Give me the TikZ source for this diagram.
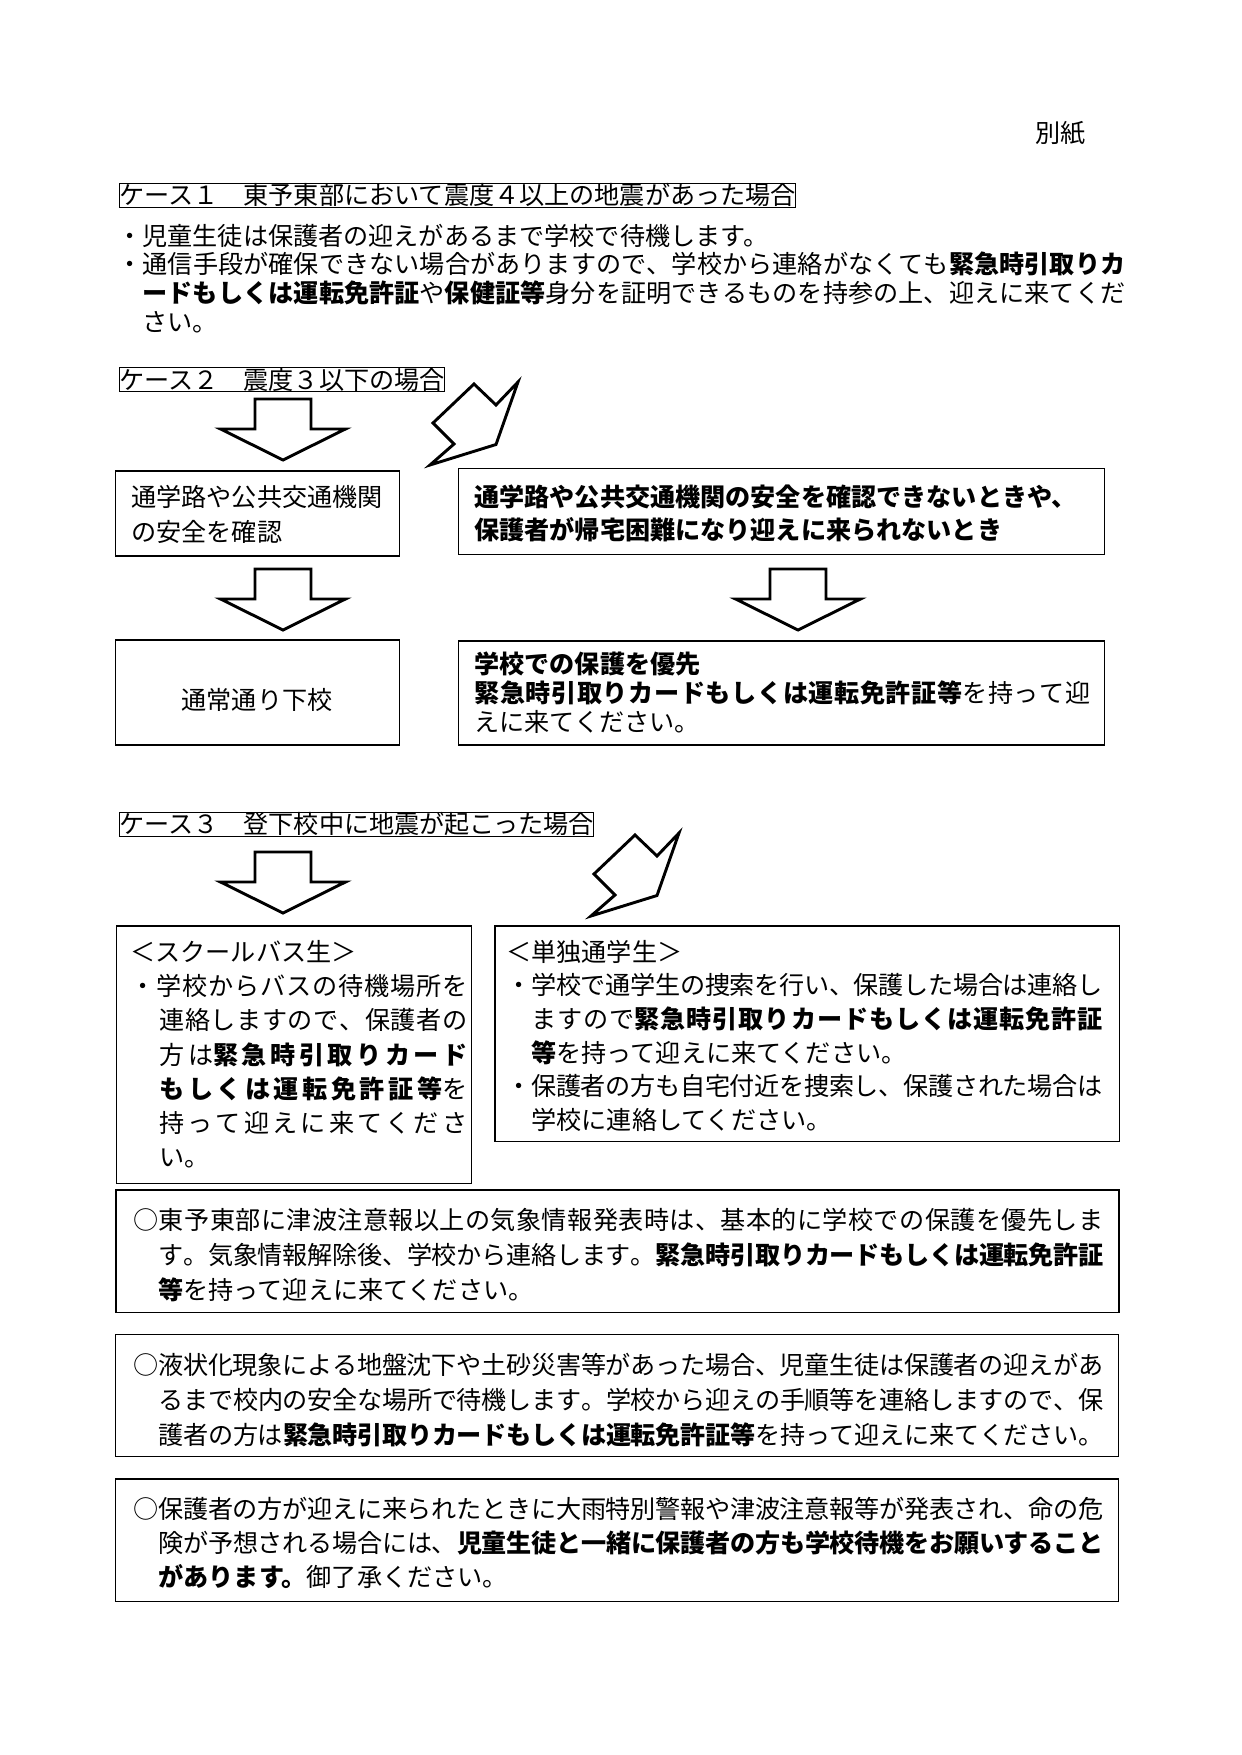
\documentclass[tikz,border=0pt]{standalone}
\usepackage{fontspec}
\setmainfont{Noto Sans CJK JP}
\usepackage{tikz}
\usetikzlibrary{fit}

\newlength\pxu
\setlength\pxu{0.16922mm}
\newXeTeXintercharclass\jpclass
\newcount\jpc
\newcommand\jpclassrange[2]{\jpc=#1 \loop\ifnum\jpc<#2 \XeTeXcharclass\jpc=\jpclass \advance\jpc by 1 \repeat}
\jpclassrange{"3000}{"3100}
\jpclassrange{"4E00}{"A000}
\jpclassrange{"FF00}{"FFF0}
\XeTeXcharclass"25CB=\jpclass
\XeTeXinterchartoks\jpclass\jpclass={\hskip 0pt plus 1fil minus .05em\relax}
\newcommand\jline[2]{\makebox[#1][s]{\XeTeXinterchartokenstate=1 #2}}

\tikzset{
    titlebox/.style={draw, line width=0.5pt, anchor=north west, inner sep=0pt, text height=10.2pt, text depth=1.3pt, font=\fontsize{12.1}{14}\selectfont},
    panel/.style={draw, line width=0.75pt, inner sep=0pt},
    txt/.style={anchor=base west, inner sep=0pt, align=left, text width=180mm, font=\fontsize{12.1}{#1}\selectfont},
    word/.style={anchor=base, inner sep=0pt, font=\fontsize{12.1}{14}\selectfont},
    fatarrow/.style={draw, line width=1.4pt, line join=miter}
}

\begin{document}
\begin{tikzpicture}[x=0.16922mm, y=-0.16922mm]
  \useasboundingbox (0,0) rectangle (1241,1755);

  \node[word, anchor=base west] (0) at (1035,142.8) {別紙};

  \node[titlebox] (c1) at (118.8,182.7) {ケース１　東予東部において震度４以上の地震があった場合};
  \node[txt=13.8pt] (t1) at (117,245.2) {・児童生徒は保護者の迎えがあるまで学校で待機します。\\
    \jline{1008\pxu}{・通信手段が確保できない場合がありますので、学校から連絡がなくても\textbf{緊急時引取りカ}}\\
    \hspace*{1em}\jline{983\pxu}{\textbf{ードもしくは運転免許証}や\textbf{保健証等}身分を証明できるものを持参の上、迎えに来てくだ}\\
    \hspace*{1em}さい。};

  \node[titlebox] (c2) at (118.8,367.3) {ケース２　震度３以下の場合};
  \node[panel, fit={(115.5,471) (399.4,556)}] (b1) {};
  \node[panel, fit={(458.3,468.7) (1104.7,554.3)}] (b2) {};
  \node[panel, fit={(115.5,640) (399.4,745)}] (b3) {};
  \node[panel, fit={(458.3,641) (1104.7,745)}] (b4) {};
  \node[txt=16.85pt] (t2) at (131,506.2) {通学路や公共交通機関\\の安全を確認};
  \node[txt=16pt] (t3) at (474,506.2) {\textbf{通学路や公共交通機関の安全を確認できないときや、}\\\textbf{保護者が帰宅困難になり迎えに来られないとき}};
  \node[word] (t4) at (257,709.5) {通常通り下校};
  \node[txt=13.9pt] (t5) at (474,673.5) {\textbf{学校での保護を優先}\\
    \jline{616\pxu}{\textbf{緊急時引取りカードもしくは運転免許証等}を持って迎}\\
    えに来てください。};

  \node[titlebox] (c3) at (118.8,811.7) {ケース３　登下校中に地震が起こった場合};
  \node[panel, fit={(116.7,926) (471.7,1183.3)}] (b5) {};
  \node[panel, fit={(495.2,926) (1119.4,1141.7)}] (b6) {};
  \node[txt=16.5pt] (t6) at (130,961.2) {＜スクールバス生＞\\
    \jline{337\pxu}{・学校からバスの待機場所を}\\
    \hspace*{29\pxu}\jline{308\pxu}{連絡しますので、保護者の}\\
    \hspace*{29\pxu}\jline{308\pxu}{方は\textbf{緊急時引取りカード}}\\
    \hspace*{29\pxu}\jline{308\pxu}{\textbf{もしくは運転免許証等}を}\\
    \hspace*{29\pxu}\jline{308\pxu}{持って迎えに来てくださ}\\
    \hspace*{29\pxu}い。};
  \node[txt=16.2pt] (t7) at (506,961.2) {＜単独通学生＞\\
    \jline{596\pxu}{・学校で通学生の捜索を行い、保護した場合は連絡し}\\
    \hspace*{1em}\jline{571\pxu}{ますので\textbf{緊急時引取りカードもしくは運転免許証}}\\
    \hspace*{1em}\textbf{等}を持って迎えに来てください。\\
    \jline{596\pxu}{・保護者の方も自宅付近を捜索し、保護された場合は}\\
    \hspace*{1em}学校に連絡してください。};

  \node[panel, fit={(116,1190) (1119,1312.7)}] (b7) {};
  \node[txt=16.85pt] (t8) at (133,1229.5) {\jline{970\pxu}{○東予東部に津波注意報以上の気象情報発表時は、基本的に学校での保護を優先しま}\\
    \hspace*{1em}\jline{945\pxu}{す。気象情報解除後、学校から連絡します。\textbf{緊急時引取りカードもしくは運転免許証}}\\
    \hspace*{1em}\textbf{等}を持って迎えに来てください。};

  \node[panel, fit={(115.5,1334.3) (1118.5,1456.7)}] (b8) {};
  \node[txt=16.85pt] (t9) at (133,1374.5) {\jline{970\pxu}{○液状化現象による地盤沈下や土砂災害等があった場合、児童生徒は保護者の迎えがあ}\\
    \hspace*{1em}\jline{945\pxu}{るまで校内の安全な場所で待機します。学校から迎えの手順等を連絡しますので、保}\\
    \hspace*{1em}\jline{945\pxu}{護者の方は\textbf{緊急時引取りカードもしくは運転免許証等}を持って迎えに来てください。}};

  \node[panel, fit={(115.5,1479) (1118.5,1601.7)}] (b9) {};
  \node[txt=16.2pt] (t10) at (133,1518.8) {\jline{970\pxu}{○保護者の方が迎えに来られたときに大雨特別警報や津波注意報等が発表され、命の危}\\
    \hspace*{1em}\jline{945\pxu}{険が予想される場合には、\textbf{児童生徒と一緒に保護者の方も学校待機をお願いすること}}\\
    \hspace*{1em}\textbf{があります。}御了承ください。};

  \foreach \x/\y in {283/399, 283/569, 798/569, 283/852}
    \draw[fatarrow] (\x,\y) ++(-28,0) -- ++(56,0) -- ++(0,30) -- ++(34.5,0) -- ++(-62.5,31) -- ++(-62.5,-31) -- ++(34.5,0) -- cycle;
  \foreach \x/\y in {430/465, 591/916}
    \draw[fatarrow] (\x,\y) -- ++(24,-21) -- ++(-21,-21) -- ++(41,-39) -- ++(22,21) -- ++(22,-23) -- ++(-22,62.5) -- cycle;
\end{tikzpicture}
\end{document}
